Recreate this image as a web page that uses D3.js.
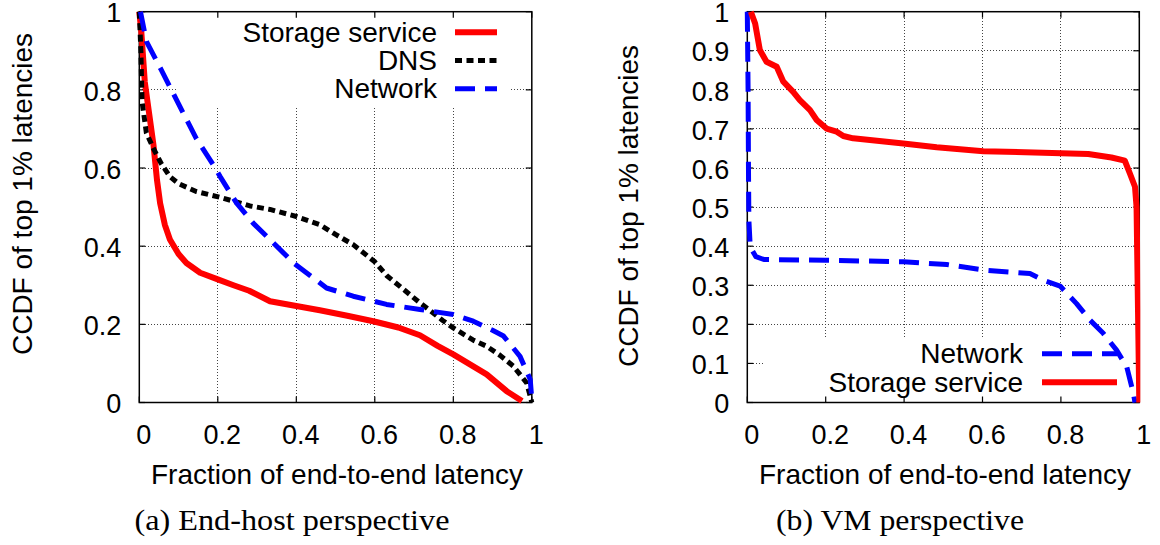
<!DOCTYPE html>
<html>
<head>
<meta charset="utf-8">
<script src="https://cdn.jsdelivr.net/npm/d3@7"></script>
<style>
  body { margin: 0; background: #fff; }
  svg text { font-family: "Liberation Sans", Arial, sans-serif; fill: #000; }
</style>
</head>
<body>
<div id="chart"></div>
<script>
// tick values
const xTicks = [0, 0.2, 0.4, 0.6, 0.8, 1];
const yTicksHost = [0, 0.2, 0.4, 0.6, 0.8, 1];
const yTicksVm = [0, 0.1, 0.2, 0.3, 0.4, 0.5, 0.6, 0.7, 0.8, 0.9, 1];

// (a) end-host perspective: [fraction, ccdf]
const hostStorage = [[0,1],[0.005,0.95],[0.014,0.82],[0.025,0.74],[0.036,0.66],[0.045,0.57],[0.053,0.51],[0.065,0.455],[0.078,0.417],[0.1,0.38],[0.12,0.357],[0.155,0.332],[0.2,0.315],[0.24,0.3],[0.28,0.286],[0.333,0.259],[0.4,0.247],[0.46,0.236],[0.53,0.222],[0.596,0.208],[0.66,0.192],[0.715,0.172],[0.76,0.145],[0.8,0.123],[0.885,0.072],[0.936,0.029],[0.975,0.004]];
const hostDns = [[0,1],[0.004,0.9],[0.007,0.77],[0.018,0.69],[0.036,0.65],[0.055,0.613],[0.078,0.578],[0.1,0.56],[0.145,0.54],[0.206,0.525],[0.282,0.503],[0.333,0.494],[0.4,0.476],[0.46,0.455],[0.5,0.43],[0.545,0.404],[0.6,0.36],[0.63,0.325],[0.715,0.255],[0.773,0.21],[0.8,0.191],[0.85,0.16],[0.885,0.144],[0.92,0.12],[0.953,0.093],[0.987,0.05],[0.996,0.016],[1,0]];
const hostNetwork = [[0.003,1],[0.018,0.924],[0.055,0.853],[0.1,0.764],[0.145,0.676],[0.191,0.604],[0.206,0.578],[0.248,0.51],[0.29,0.459],[0.333,0.417],[0.393,0.357],[0.435,0.325],[0.477,0.293],[0.545,0.272],[0.63,0.251],[0.715,0.238],[0.8,0.225],[0.851,0.208],[0.9,0.185],[0.928,0.17],[0.97,0.118],[0.996,0.059],[1,0.008]];

// (b) VM perspective
const vmNetwork = [[0,1],[0.002,0.8],[0.003,0.6],[0.004,0.467],[0.007,0.407],[0.011,0.392],[0.022,0.373],[0.042,0.366],[0.2,0.364],[0.398,0.36],[0.509,0.353],[0.602,0.339],[0.721,0.33],[0.755,0.313],[0.798,0.298],[0.84,0.253],[0.874,0.211],[0.908,0.177],[0.942,0.134],[0.968,0.091],[0.985,0.023],[0.989,0]];
const vmStorage = [[0.009,1],[0.02,0.97],[0.032,0.902],[0.049,0.872],[0.075,0.859],[0.092,0.821],[0.117,0.795],[0.134,0.774],[0.16,0.748],[0.177,0.723],[0.202,0.701],[0.228,0.693],[0.245,0.682],[0.27,0.676],[0.398,0.663],[0.483,0.653],[0.602,0.643],[0.87,0.636],[0.929,0.627],[0.963,0.619],[0.976,0.586],[0.989,0.552],[0.993,0.5],[0.995,0.357],[1,0]];

// line styles
const styles = {
   storage: { color: "#ff0000", width: 6, dash: null },
   dns: { color: "#000000", width: 5, dash: "7,4.5" },
   network: { color: "#0000ff", width: 5, dash: "20,10" }
};

const svg = d3
   .select("#chart")
   .append("svg")
   .attr("width", 1160)
   .attr("height", 545);

const fmt = d3.format("~g");
// snap 1px lines onto pixel centres so the dots stay crisp
const snap = (v) => Math.round(v - 0.5) + 0.5;

function panel(opt) {
   const x = d3.scaleLinear().domain([0, 1]).range([opt.left, opt.right]);
   const y = d3.scaleLinear().domain([0, 1]).range([opt.bottom, opt.top]);
   const g = svg.append("g");

   // dotted grid
   const grid = g.append("g")
      .attr("stroke", "#444")
      .attr("stroke-width", 1)
      .attr("stroke-dasharray", "1,2")
      .attr("shape-rendering", "crispEdges");
   grid.selectAll(".gx")
      .data(xTicks.filter((d) => d > 0 && d < 1))
      .enter()
      .append("line")
      .attr("x1", (d) => snap(x(d))).attr("x2", (d) => snap(x(d)))
      .attr("y1", opt.top).attr("y2", opt.bottom);
   grid.selectAll(".gy")
      .data(opt.yTicks.filter((d) => d > 0 && d < 1))
      .enter()
      .append("line")
      .attr("y1", (d) => snap(y(d))).attr("y2", (d) => snap(y(d)))
      .attr("x1", opt.left).attr("x2", opt.right);

   // opaque key box
   g.append("rect")
      .attr("x", opt.key.box[0]).attr("y", opt.key.box[1])
      .attr("width", opt.key.box[2]).attr("height", opt.key.box[3])
      .attr("fill", "#fff");

   // mirrored tick marks
   const tk = g.append("g").attr("stroke", "#000").attr("stroke-width", 1.2);
   xTicks.forEach((d) => {
      tk.append("line").attr("x1", x(d)).attr("x2", x(d)).attr("y1", opt.bottom).attr("y2", opt.bottom - 6);
      tk.append("line").attr("x1", x(d)).attr("x2", x(d)).attr("y1", opt.top).attr("y2", opt.top + 6);
   });
   opt.yTicks.forEach((d) => {
      tk.append("line").attr("y1", y(d)).attr("y2", y(d)).attr("x1", opt.left).attr("x2", opt.left + 6);
      tk.append("line").attr("y1", y(d)).attr("y2", y(d)).attr("x1", opt.right).attr("x2", opt.right - 6);
   });

   // border
   g.append("rect")
      .attr("x", opt.left).attr("y", opt.top)
      .attr("width", opt.right - opt.left).attr("height", opt.bottom - opt.top)
      .attr("fill", "none").attr("stroke", "#000").attr("stroke-width", 1.5);

   // axis labels
   const xa = g.append("g")
      .attr("transform", `translate(4,${opt.bottom})`)
      .call(d3.axisBottom(x).tickValues(xTicks).tickFormat(fmt).tickSize(0).tickPadding(22));
   const ya = g.append("g")
      .attr("transform", `translate(${opt.left},1.5)`)
      .call(d3.axisLeft(y).tickValues(opt.yTicks).tickFormat(fmt).tickSize(0).tickPadding(18));
   [xa, ya].forEach((a) => {
      a.select(".domain").remove();
      a.selectAll("text").attr("font-size", 27).attr("font-family", null);
   });

   // axis titles
   g.append("text")
      .attr("x", opt.xTitle[0]).attr("y", opt.xTitle[1])
      .attr("text-anchor", "middle").attr("font-size", 28)
      .text("Fraction of end-to-end latency");
   g.append("text")
      .attr("transform", `translate(${opt.yTitle[0]},${opt.yTitle[1]}) rotate(-90)`)
      .attr("text-anchor", "middle").attr("font-size", 28)
      .text("CCDF of top 1% latencies");

   // caption
   g.append("text")
      .attr("x", opt.caption[0]).attr("y", opt.caption[1])
      .attr("text-anchor", "middle")
      .attr("font-size", 29)
      .style("font-family", "'Liberation Serif', 'DejaVu Serif', serif")
      .attr("textLength", opt.caption[2]).attr("lengthAdjust", "spacingAndGlyphs")
      .text(opt.captionText);

   // curves
   const line = d3.line().x((d) => x(d[0])).y((d) => y(d[1]));
   opt.series.forEach((s) => {
      const st = styles[s.style];
      g.append("path")
         .datum(s.values)
         .attr("d", line)
         .attr("fill", "none")
         .attr("stroke", st.color)
         .attr("stroke-width", st.width)
         .attr("stroke-dasharray", st.dash)
         .attr("stroke-linejoin", "round")
         .attr("clip-path", s.clip ? `url(#${s.clip})` : null);
   });

   // key
   opt.series.forEach((s, i) => {
      const st = styles[s.style];
      const by = opt.key.y0 + i * opt.key.step;
      g.append("text")
         .attr("x", opt.key.textX).attr("y", by)
         .attr("text-anchor", "end").attr("font-size", 28)
         .text(s.name);
      g.append("line")
         .attr("x1", opt.key.lineX[0]).attr("x2", opt.key.lineX[1])
         .attr("y1", by - 9.5).attr("y2", by - 9.5)
         .attr("stroke", st.color)
         .attr("stroke-width", st.width)
         .attr("stroke-dasharray", st.dash);
   });
}

// clip for the VM storage tail hugging the right border
svg.append("defs").append("clipPath").attr("id", "clipB")
   .append("rect").attr("x", 700).attr("y", 0).attr("width", 1140.3 - 700).attr("height", 420);

panel({
   left: 139.3, right: 531.8, top: 11.7, bottom: 402.5,
   yTicks: yTicksHost,
   xTitle: [337, 484],
   yTitle: [31.5, 194],
   caption: [292, 530, 315],
   captionText: "(a) End-host perspective",
   key: { box: [178, 12, 333, 94], textX: 437, lineX: [455, 497], y0: 41.7, step: 28.3 },
   series: [
      { name: "Storage service", style: "storage", values: hostStorage },
      { name: "DNS", style: "dns", values: hostDns },
      { name: "Network", style: "network", values: hostNetwork }
   ]
});

panel({
   left: 747.3, right: 1139.3, top: 11.7, bottom: 402.5,
   yTicks: yTicksVm,
   xTitle: [945, 484],
   yTitle: [638, 206],
   caption: [900, 530, 248],
   captionText: "(b) VM perspective",
   key: { box: [763, 338, 376, 64], textX: 1023, lineX: [1042, 1117], y0: 363.3, step: 28.4 },
   series: [
      { name: "Network", style: "network", values: vmNetwork },
      { name: "Storage service", style: "storage", values: vmStorage, clip: "clipB" }
   ]
});
</script>
</body>
</html>
